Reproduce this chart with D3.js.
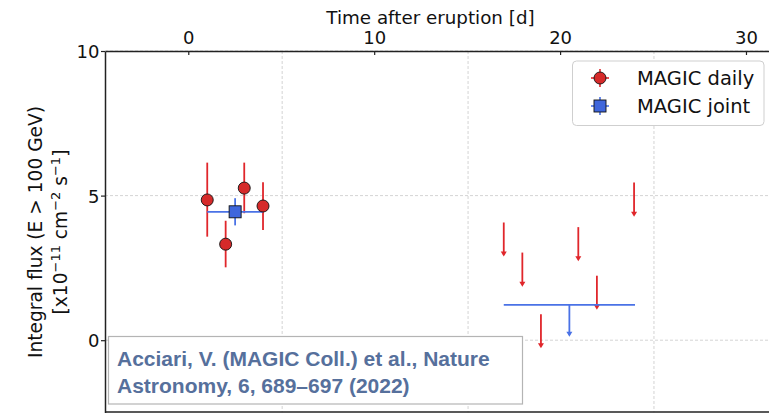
<!DOCTYPE html>
<html>
<head>
<meta charset="utf-8">
<script src="https://cdn.jsdelivr.net/npm/d3@7/dist/d3.min.js"></script>
<style>
  html, body { margin: 0; padding: 0; background: #fff; }
  svg { display: block; }
</style>
</head>
<body>
<div id="chart"></div>
<script>
// Daily MAGIC detections: time after eruption [d], flux [1e-11 cm^-2 s^-1], errors
const dailyDays  = [1.02, 2.01, 3.01, 4.02];
const dailyFlux  = [4.85, 3.32, 5.26, 4.64];
const dailyErrHi = [1.29, 0.81, 0.88, 0.82];
const dailyErrLo = [1.27, 0.80, 0.87, 0.83];

// Joint fit over the first four nights
const jointDay   = [2.52];
const jointHalfW = [1.50];
const jointFlux  = [4.44];
const jointErr   = [0.47];

// Daily upper limits (later nights)
const ulDays = [16.97, 17.97, 18.97, 20.98, 21.98, 23.98];
const ulFlux = [4.07, 3.03, 0.90, 3.91, 2.23, 5.45];

// Joint upper limit over the later nights
const jointUlDay   = [20.5];
const jointUlHalfW = [3.53];
const jointUlFlux  = [1.22];

// Axis ticks and grid
const topTicks   = [0, 10, 20, 30];
const leftTicks  = [0, 5, 10];
const gridDays   = [5.05, 15.05, 25.05];
const gridFlux   = [0, 5, 10];

const legendLabels = ["MAGIC daily", "MAGIC joint"];
const citation = ["Acciari, V. (MAGIC Coll.) et al., Nature", "Astronomy, 6, 689\u2013697 (2022)"];

const W = 769, H = 414;
const RED = "#e0262b", RED_FILL = "#d62a2a";
const BLUE = "#4a72e6", BLUE_FILL = "#3f66dc";
const FONT = "'DejaVu Sans', sans-serif";

const svg = d3.select("#chart").append("svg")
  .attr("width", W).attr("height", H);

const plot = { left: 105, top: 51, bottom: 412.5 };
const x = d3.scaleLinear().domain([-4.48, 32.6]).range([plot.left, plot.left + (32.6 + 4.48) * 18.59]);
const y = d3.scaleLinear().domain([-2.5, 10]).range([plot.bottom, plot.top]);
const xR = x.range()[1];

// grid
const grid = svg.append("g").attr("stroke", "#d4d4d4").attr("stroke-width", 1)
  .attr("stroke-dasharray", "3,2");
grid.selectAll("line.v").data(gridDays).join("line").attr("class", "v")
  .attr("x1", d => x(d)).attr("x2", d => x(d))
  .attr("y1", plot.top).attr("y2", plot.bottom);
grid.selectAll("line.h").data(gridFlux).join("line").attr("class", "h")
  .attr("x1", plot.left).attr("x2", xR)
  .attr("y1", d => y(d)).attr("y2", d => y(d));

// daily detections: error bars then markers
const daily = dailyDays.map((d, i) => ({ d, f: dailyFlux[i], hi: dailyErrHi[i], lo: dailyErrLo[i] }));
svg.append("g").selectAll("line").data(daily).join("line")
  .attr("x1", p => x(p.d)).attr("x2", p => x(p.d))
  .attr("y1", p => y(p.f + p.hi)).attr("y2", p => y(p.f - p.lo))
  .attr("stroke", RED).attr("stroke-width", 1.8);

// joint point error bars
const joint = jointDay.map((d, i) => ({ d, w: jointHalfW[i], f: jointFlux[i], e: jointErr[i] }));
const jg = svg.append("g").attr("stroke", BLUE).attr("stroke-width", 1.8);
jg.selectAll("line.h").data(joint).join("line").attr("class", "h")
  .attr("x1", p => x(p.d - p.w)).attr("x2", p => x(p.d + p.w))
  .attr("y1", p => y(p.f)).attr("y2", p => y(p.f));
jg.selectAll("line.v").data(joint).join("line").attr("class", "v")
  .attr("x1", p => x(p.d)).attr("x2", p => x(p.d))
  .attr("y1", p => y(p.f + p.e)).attr("y2", p => y(p.f - p.e));

svg.append("g").selectAll("circle").data(daily).join("circle")
  .attr("cx", p => x(p.d)).attr("cy", p => y(p.f)).attr("r", 6)
  .attr("fill", RED_FILL).attr("stroke", "#111").attr("stroke-width", 0.9);

svg.append("g").selectAll("rect").data(joint).join("rect")
  .attr("x", p => x(p.d) - 6).attr("y", p => y(p.f) - 6)
  .attr("width", 12).attr("height", 12)
  .attr("fill", BLUE_FILL).attr("stroke", "#111").attr("stroke-width", 0.9);

// upper-limit arrows
function arrow(g, px, pTop, pTip, color) {
  g.append("line").attr("x1", px).attr("x2", px).attr("y1", pTop).attr("y2", pTip - 2)
    .attr("stroke", color).attr("stroke-width", 1.8);
  g.append("path")
    .attr("d", `M${px - 3},${pTip - 5} L${px + 3},${pTip - 5} L${px},${pTip} Z`)
    .attr("fill", color);
}
const ulg = svg.append("g");
ulDays.forEach((d, i) => arrow(ulg, x(d), y(ulFlux[i]), y(ulFlux[i] - 1.18), RED));

const jul = svg.append("g");
jointUlDay.forEach((d, i) => {
  jul.append("line")
    .attr("x1", x(d - jointUlHalfW[i])).attr("x2", x(d + jointUlHalfW[i]))
    .attr("y1", y(jointUlFlux[i])).attr("y2", y(jointUlFlux[i]))
    .attr("stroke", BLUE).attr("stroke-width", 1.8);
  arrow(jul, x(d), y(jointUlFlux[i]), y(jointUlFlux[i] - 1.1), BLUE);
});

// spines and axes
const axisTop = d3.axisTop(x).tickValues(topTicks).tickSizeInner(-4).tickSizeOuter(0).tickPadding(7);
const gTop = svg.append("g").attr("transform", `translate(0,${plot.top})`).call(axisTop);
const axisLeft = d3.axisLeft(y).tickValues(leftTicks).tickSizeInner(4).tickSizeOuter(0).tickPadding(1.5);
const gLeft = svg.append("g").attr("transform", `translate(${plot.left},0)`).call(axisLeft);
[gTop, gLeft].forEach(g => {
  g.select(".domain").attr("stroke", "#222").attr("stroke-width", 1.5);
  g.selectAll(".tick line").attr("stroke", "#222").attr("stroke-width", 1.2);
  g.selectAll(".tick text").attr("font-family", FONT).attr("font-size", 18).attr("fill", "#111");
});
gLeft.selectAll(".tick text").attr("dy", "0.36em");
svg.append("line").attr("x1", plot.left).attr("x2", xR)
  .attr("y1", plot.bottom - 0.5).attr("y2", plot.bottom - 0.5)
  .attr("stroke", "#222").attr("stroke-width", 1.5);

// axis titles
svg.append("text").attr("x", 430.5).attr("y", 24)
  .attr("text-anchor", "middle").attr("font-family", FONT).attr("font-size", 18.3)
  .attr("fill", "#111").text("Time after eruption [d]");

const yl = svg.append("g").attr("transform", "translate(0,232) rotate(-90)")
  .attr("font-family", FONT).attr("font-size", 18.6).attr("fill", "#111").attr("text-anchor", "middle");
yl.append("text").attr("x", 0).attr("y", 42).text("Integral flux (E > 100 GeV)");
const l2 = yl.append("text").attr("x", 0).attr("y", 67);
l2.append("tspan").text("[x10");
l2.append("tspan").attr("dy", -7).attr("font-size", 13).text("\u221211");
l2.append("tspan").attr("dy", 7).text(" cm");
l2.append("tspan").attr("dy", -7).attr("font-size", 13).text("\u22122");
l2.append("tspan").attr("dy", 7).text(" s");
l2.append("tspan").attr("dy", -7).attr("font-size", 13).text("\u22121");
l2.append("tspan").attr("dy", 7).text("]");

// legend
const lg = svg.append("g");
lg.append("rect").attr("x", 572.5).attr("y", 61).attr("width", 191.5).attr("height", 64.5)
  .attr("rx", 4).attr("fill", "#fff").attr("stroke", "#cfcfcf").attr("stroke-width", 1);
const legRows = [78, 106];
// daily marker
lg.append("line").attr("x1", 591).attr("x2", 609).attr("y1", legRows[0]).attr("y2", legRows[0]).attr("stroke", RED).attr("stroke-width", 1.6);
lg.append("line").attr("x1", 600).attr("x2", 600).attr("y1", legRows[0] - 9).attr("y2", legRows[0] + 9).attr("stroke", RED).attr("stroke-width", 1.6);
lg.append("circle").attr("cx", 600).attr("cy", legRows[0]).attr("r", 6)
  .attr("fill", RED_FILL).attr("stroke", "#111").attr("stroke-width", 0.9);
// joint marker
lg.append("line").attr("x1", 591).attr("x2", 609).attr("y1", legRows[1]).attr("y2", legRows[1]).attr("stroke", BLUE).attr("stroke-width", 1.6);
lg.append("line").attr("x1", 600).attr("x2", 600).attr("y1", legRows[1] - 9).attr("y2", legRows[1] + 9).attr("stroke", BLUE).attr("stroke-width", 1.6);
lg.append("rect").attr("x", 594).attr("y", legRows[1] - 6).attr("width", 12).attr("height", 12)
  .attr("fill", BLUE_FILL).attr("stroke", "#111").attr("stroke-width", 0.9);
lg.selectAll("text.lab").data(legendLabels).join("text").attr("class", "lab")
  .attr("x", 637).attr("y", (d, i) => legRows[i]).attr("dy", "0.36em")
  .attr("font-family", FONT).attr("font-size", 19.5).attr("fill", "#111").text(d => d);

// citation box
const cg = svg.append("g");
cg.append("rect").attr("x", 108.5).attr("y", 336.5).attr("width", 414).attr("height", 67.5)
  .attr("fill", "#fff").attr("stroke", "#b4b4b4").attr("stroke-width", 1.2);
cg.selectAll("text").data(citation).join("text")
  .attr("x", 117).attr("y", (d, i) => 366 + i * 26.7)
  .attr("font-family", "'Liberation Sans', Arial, sans-serif").attr("font-weight", "bold")
  .attr("font-size", 21).attr("fill", "#56709c").text(d => d);
</script>
</body>
</html>
